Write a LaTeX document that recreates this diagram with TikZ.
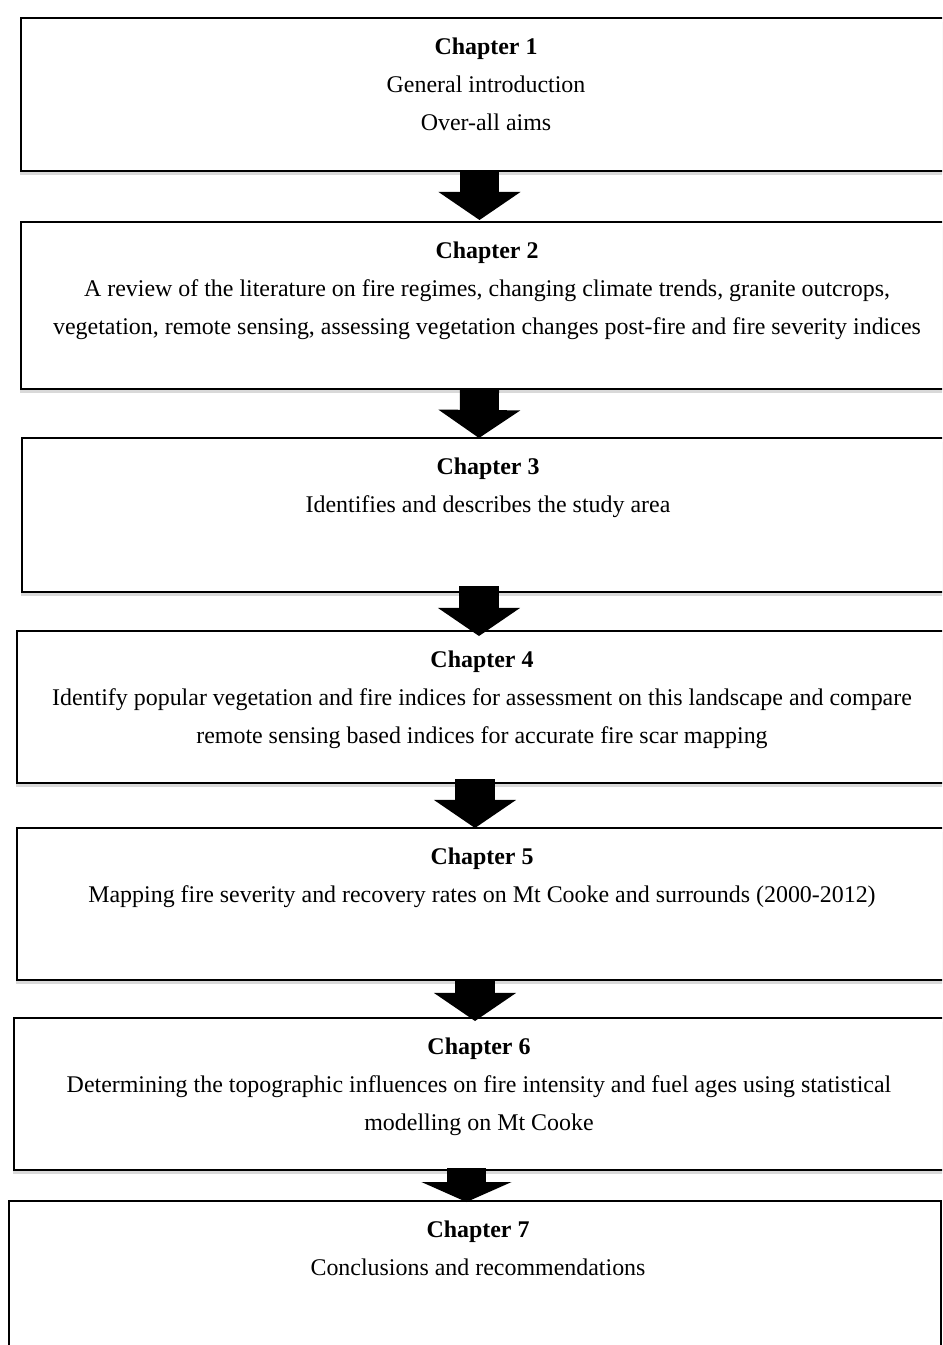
\documentclass[tikz,border=0pt]{standalone}
\usepackage{fontspec}
\setmainfont{Liberation Serif}
\usetikzlibrary{arrows.meta,shadows}
\newlength{\pxu}\setlength{\pxu}{0.535pt}
\tikzset{
 chbox/.style={draw,line width=1.1pt,fill=white,anchor=north west,inner sep=0pt,
   drop shadow={shadow xshift=-0.8pt,shadow yshift=-2pt,opacity=0.3}},
 chtext/.style={anchor=north,align=center,inner sep=0pt,font=\fontsize{12.8}{20.3}\selectfont},
 bigarrow/.style={line width=20.9pt,-{Triangle[width=43.9pt,length=15pt,line width=0pt]}}
}
\begin{document}
\begin{tikzpicture}[x=0.535pt,y=-0.535pt]
 \useasboundingbox (0,0) rectangle (942,1345);
 \clip (0,0) rectangle (942,1345);
 % chapter boxes
 \node[chbox,minimum width=940\pxu,minimum height=153\pxu] (ch1) at (20,17) {};
 \node[chbox,minimum width=940\pxu,minimum height=167\pxu] (ch2) at (20,221) {};
 \node[chbox,minimum width=939\pxu,minimum height=154\pxu] (ch3) at (21,437) {};
 \node[chbox,minimum width=944\pxu,minimum height=152\pxu] (ch4) at (16,630) {};
 \node[chbox,minimum width=944\pxu,minimum height=152\pxu] (ch5) at (16,827) {};
 \node[chbox,minimum width=947\pxu,minimum height=152\pxu] (ch6) at (13,1017) {};
 \node[chbox,minimum width=932\pxu,minimum height=200\pxu] (ch7) at (8,1200) {};
 % texts
 \node[chtext] (t1) at (486,38) {\textbf{Chapter 1}\\General introduction\\Over-all aims};
 \node[chtext] (t2) at (487,242) {\textbf{Chapter 2}\\A review of the literature on fire regimes, changing climate trends, granite outcrops,\\vegetation, remote sensing, assessing vegetation changes post-fire and fire severity indices};
 \node[chtext] (t3) at (488,458) {\textbf{Chapter 3}\\Identifies and describes the study area};
 \node[chtext] (t4) at (482,651) {\textbf{Chapter 4}\\Identify popular vegetation and fire indices for assessment on this landscape and compare\\remote sensing based indices for accurate fire scar mapping};
 \node[chtext] (t5) at (482,848) {\textbf{Chapter 5}\\Mapping fire severity and recovery rates on Mt Cooke and surrounds (2000-2012)};
 \node[chtext] (t6) at (479,1038) {\textbf{Chapter 6}\\Determining the topographic influences on fire intensity and fuel ages using statistical\\modelling on Mt Cooke};
 \node[chtext] (t7) at (478,1221) {\textbf{Chapter 7}\\Conclusions and recommendations};
 % arrows
 \draw[bigarrow] ([xshift=459.5\pxu]ch1.south west) -- ([xshift=459.5\pxu,yshift=1\pxu]ch2.north west);
 \draw[bigarrow] ([xshift=459.5\pxu,yshift=1\pxu]ch2.south west) -- ([xshift=458\pxu,yshift=-1\pxu]ch3.north west);
 \draw[bigarrow] ([xshift=458\pxu,yshift=7\pxu]ch3.south west) -- ([xshift=463\pxu,yshift=-6\pxu]ch4.north west);
 \draw[bigarrow] ([xshift=459\pxu,yshift=5\pxu]ch4.south west) -- ([xshift=459\pxu,yshift=-1\pxu]ch5.north west);
 \draw[bigarrow] ([xshift=459\pxu,yshift=2\pxu]ch5.south west) -- ([xshift=462\pxu,yshift=-4\pxu]ch6.north west);
 \draw[bigarrow,-{Triangle[width=48.2pt,length=10.7pt,line width=0pt]}]
   ([xshift=453.5\pxu,yshift=3\pxu]ch6.south west) -- ([xshift=458.5\pxu,yshift=-2\pxu]ch7.north west);
\end{tikzpicture}
\end{document}
